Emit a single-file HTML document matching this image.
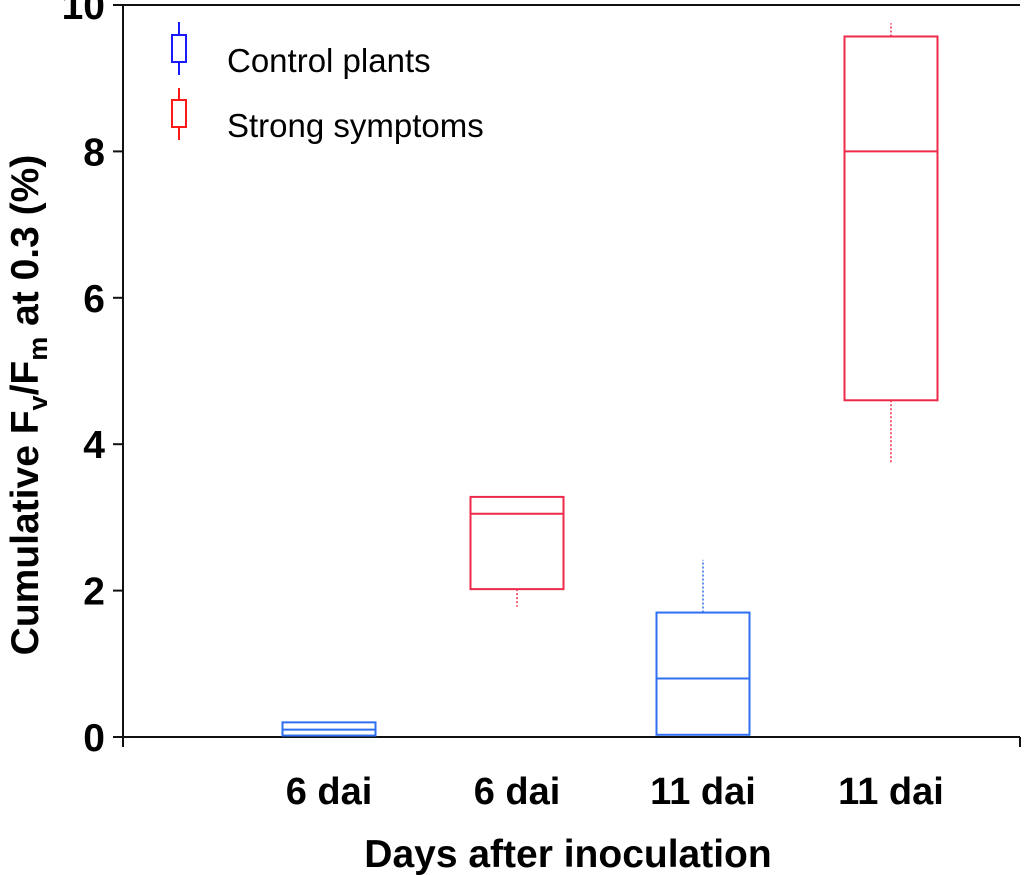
<!DOCTYPE html>
<html><head><meta charset="utf-8"><style>
html,body{margin:0;padding:0;background:#fff;}
svg{display:block;font-family:"Liberation Sans",Arial,sans-serif;}
</style></head><body>
<svg id="chart" width="1024" height="875" viewBox="0 0 1024 875" xmlns="http://www.w3.org/2000/svg">
<g id="axes"></g>
<g id="boxes"></g>
<g>
  <g stroke="#1a1aff" stroke-width="2" fill="none">
    <line x1="179" y1="22" x2="179" y2="35"/><rect x="172" y="35" width="14" height="27"/><line x1="179" y1="62" x2="179" y2="75"/>
  </g>
  <text x="227" y="72" font-size="33">Control plants</text>
  <g stroke="#ff1a1a" stroke-width="2" fill="none">
    <line x1="179" y1="88" x2="179" y2="100"/><rect x="172" y="100" width="14" height="27"/><line x1="179" y1="127" x2="179" y2="140"/>
  </g>
  <text x="227" y="137" font-size="33">Strong symptoms</text>
</g>
<text x="568" y="867" font-size="39" font-weight="bold" text-anchor="middle">Days after inoculation</text>
<text transform="translate(38,405) rotate(-90)" font-size="39" font-weight="bold" text-anchor="middle">Cumulative F<tspan font-size="27" dy="9">v</tspan><tspan dy="-9">/F</tspan><tspan font-size="27" dy="9">m</tspan><tspan dy="-9"> at 0.3 (%)</tspan></text>
<script>
const categories=["6 dai","6 dai","11 dai","11 dai"];
const groups=["control","strong","control","strong"];
const whiskerLow=[null,1.78,null,3.75];
const q1=[0.02,2.02,0.03,4.6];
const medians=[0.1,3.05,0.8,8.0];
const q3=[0.2,3.28,1.7,9.57];
const whiskerHigh=[null,null,2.42,9.75];
const yTicks=[0,2,4,6,8,10];
const NS="http://www.w3.org/2000/svg";
const L=123,R=1020,T=5,B=737;
const y=v=>B-(v/10)*(B-T);
const centers=[329,517,703,891];
const bw=93;
const colors={control:"#2f6ff2",strong:"#ee2a4a"};
function mk(tag,attrs,parent){const e=document.createElementNS(NS,tag);for(const k in attrs)e.setAttribute(k,attrs[k]);parent.appendChild(e);return e;}
const ax=document.getElementById("axes");
let e=mk("line",{x1:L,y1:T,x2:L,y2:747,stroke:"#111","stroke-width":2},ax);


e=mk("line",{x1:L,y1:B,x2:R,y2:B,stroke:"#111","stroke-width":2},ax);


e=mk("line",{x1:L,y1:T,x2:R,y2:T,stroke:"#111","stroke-width":2},ax);


e=mk("line",{x1:R,y1:B,x2:R,y2:747,stroke:"#111","stroke-width":2},ax);


yTicks.forEach(t=>{
  const tk=mk("line",{x1:113,y1:y(t),x2:L,y2:y(t),stroke:"#111","stroke-width":2},ax);
  
  
  const tx=mk("text",{x:105,y:y(t)+14,"font-size":39,"font-weight":"bold","text-anchor":"end"},ax);
  tx.textContent=t;
  
  
});
const bx=document.getElementById("boxes");
categories.forEach((c,i)=>{
  const col=colors[groups[i]],cx=centers[i];
  const g=mk("g",{stroke:col,"stroke-width":2,fill:"none"},bx);
  
  
  mk("rect",{x:cx-bw/2,y:y(q3[i]),width:bw,height:y(q1[i])-y(q3[i])},g);
  mk("line",{x1:cx-bw/2,y1:y(medians[i]),x2:cx+bw/2,y2:y(medians[i])},g);
  if(whiskerLow[i]!==null) mk("line",{x1:cx,y1:y(q1[i]),x2:cx,y2:y(whiskerLow[i]),"stroke-dasharray":"2,2","stroke-width":1.5},g);
  if(whiskerHigh[i]!==null) mk("line",{x1:cx,y1:y(q3[i]),x2:cx,y2:y(whiskerHigh[i]),"stroke-dasharray":"2,2","stroke-width":1.5},g);
  const tx=mk("text",{x:cx,y:804,"font-size":38,"font-weight":"bold","text-anchor":"middle"},ax);
  tx.textContent=c;
  
  
});
</script>
</svg>
</body></html>
